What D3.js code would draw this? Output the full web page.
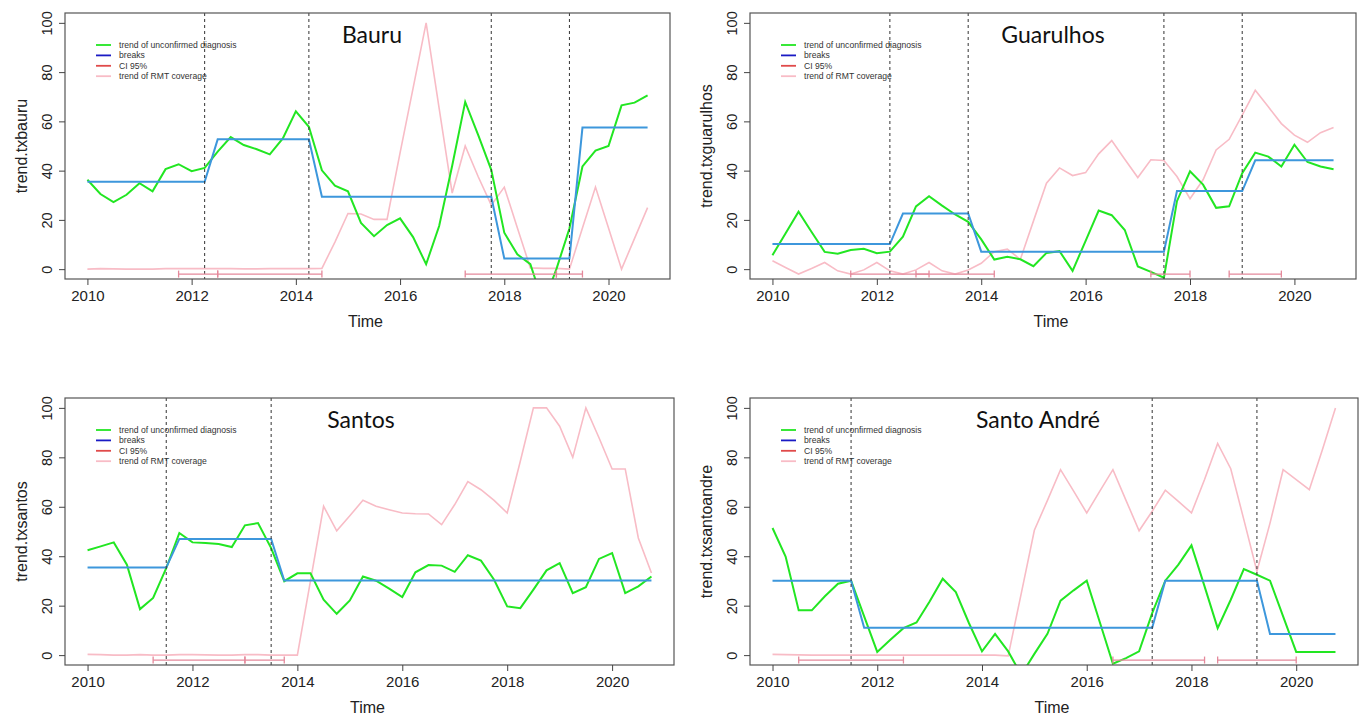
<!DOCTYPE html>
<html>
<head>
<meta charset="utf-8">
<script src="https://cdn.jsdelivr.net/npm/d3@7"></script>
<style>
  body { margin: 0; background: #fff; }
  svg { display: block; }
  text { font-family: "Liberation Sans", Arial, sans-serif; fill: #222; }
</style>
</head>
<body>
<svg id="chart" width="1361" height="717"></svg>
<script>
// quarterly time index 2010 Q1 .. 2020 Q4
const quarters = d3.range(44).map(i => 2010 + i / 4);
const xTicks = [2010, 2012, 2014, 2016, 2018, 2020];
const yTicks = [0, 20, 40, 60, 80, 100];
const legendLabels = ['trend of unconfirmed diagnosis', 'breaks', 'CI 95%', 'trend of RMT coverage'];

// Bauru
const bauruTrend = [36.3, 30.5, 27.2, 30.2, 34.9, 31.6, 40.6, 42.6, 39.8, 41.1, 47.7, 53.6,
  50.4, 48.7, 46.6, 53.1, 64.1, 57.8, 40.1, 33.9, 31.6, 18.8, 13.4, 17.9,
  20.6, 13.0, 2.0, 17.5, 42.0, 67.9, 54.4, 40.3, 14.8, 6.0, 2.0, -14.0,
  0.0, 16.5, 41.7, 48.1, 50.0, 66.5, 67.6, 70.6];
const bauruRMT = [0, 0.2, 0.1, 0, 0, 0, 0.2, 0.2, 0.2, 0.2, 0.2, 0.2,
  0.1, 0.1, 0.2, 0.2, 0.2, 0.2, 0.3, 11.0, 22.6, 22.4, 20.2, 20.2,
  47.2, 73.5, 100, 65.3, 30.9, 50.0, 37.5, 26.0, 33.3, 16.8, 0.5, 0.3,
  0.3, 0, 16.7, 33.3, 16.7, 0, 12.5, 25.0];
const bauruBreaks = [2012.25, 2014.25, 2017.75, 2019.25];
const bauruLevels = [35.5, 52.7, 29.4, 4.3, 57.5];
const bauruCI = [[2011.75, 2012.5], [2012.5, 2014.5], [2017.25, 2019.0], [2019.0, 2019.5]];

// Guarulhos
const guarulhosTrend = [5.6, 14.5, 23.3, 15.1, 7.0, 6.3, 7.8, 8.3, 6.5, 7.1, 13.2, 25.5,
  29.6, 25.8, 22.2, 19.2, 12.1, 3.9, 5.0, 4.0, 1.2, 6.6, 7.3, -0.7,
  11.5, 23.8, 21.9, 15.9, 1.1, -1.1, -3.5, 27.6, 39.7, 34.3, 24.9, 25.5,
  39.0, 47.3, 45.7, 41.7, 50.5, 43.5, 41.7, 40.6];
const guarulhosRMT = [3.4, 0.7, -2.0, 0.3, 2.7, -0.7, -2.0, -0.3, 2.7, -0.7, -2.0, -0.3,
  2.7, -0.7, -2.0, -0.3, 2.4, 7.1, 8.1, 4.0, 19.5, 34.9, 41.1, 38.0,
  39.2, 46.8, 52.2, 44.6, 37.2, 44.4, 44.1, 37.6, 28.6, 36.3, 48.4, 52.7,
  62.5, 72.6, 65.9, 59.1, 54.4, 51.5, 55.4, 57.5];
const guarulhosBreaks = [2012.25, 2013.75, 2017.5, 2019.0];
const guarulhosLevels = [10.2, 22.6, 7.1, 31.7, 44.2];
const guarulhosCI = [[2011.5, 2013.0], [2012.75, 2014.25], [2017.25, 2018.0], [2018.75, 2019.75]];

// Santos
const santosTrend = [42.4, 44.0, 45.6, 36.6, 18.6, 23.1, 35.2, 49.4, 45.6, 45.3, 44.9, 43.7,
  52.5, 53.4, 43.3, 29.9, 33.1, 33.1, 22.4, 16.7, 22.1, 31.8, 30.1, 26.9,
  23.5, 33.5, 36.4, 36.2, 33.7, 40.4, 38.2, 30.5, 19.7, 19.0, 26.5, 34.3,
  37.2, 25.1, 27.5, 38.9, 41.3, 25.1, 27.8, 31.8];
const santosRMT = [0.3, 0.2, 0, 0, 0.2, 0, 0, 0.2, 0.2, 0.1, 0, 0,
  0.2, 0.2, 0, 0, 0, 30.0, 60.2, 50.3, 56.4, 62.6, 60.2, 58.8,
  57.5, 57.2, 57.1, 52.8, 60.9, 70.2, 66.9, 62.6, 57.5, 78.4, 100, 100,
  92.6, 80.0, 100, 87.9, 75.3, 75.3, 47.4, 33.2];
const santosBreaks = [2011.5, 2013.5];
const santosLevels = [35.4, 47.0, 30.2];
const santosCI = [[2011.25, 2013.0], [2013.0, 2013.75]];

// Santo André
const santoAndreTrend = [51.4, 39.9, 18.1, 18.1, 23.8, 28.9, 30.1, 15.7, 1.3, 6.2, 10.9, 13.2,
  21.7, 30.9, 25.5, 13.0, 1.5, 8.6, 1.5, -8.0, 0.5, 8.6, 22.0, 26.2,
  30.1, 13.3, -3.5, -1.2, 1.5, 17.0, 30.1, 36.6, 44.4, 27.8, 10.9, 22.4,
  34.8, 32.5, 30.1, 15.7, 1.3, 1.3, 1.3, 1.3];
const santoAndreRMT = [0.3, 0.2, 0.1, 0, 0, 0, 0, 0, 0, 0, 0, 0,
  0, 0, 0, 0, 0, 0, -0.3, 25.0, 50.5, 62.6, 75.0, 66.3,
  57.5, 66.3, 75.0, 62.6, 50.3, 58.2, 66.7, 62.2, 57.5, 71.0, 85.6, 75.4,
  54.8, 33.9, 53.4, 75.0, 71.0, 66.9, 83.1, 100];
const santoAndreBreaks = [2011.5, 2017.25, 2019.25];
const santoAndreLevels = [30.1, 11.1, 30.1, 8.5];
const santoAndreCI = [[2010.5, 2012.5], [2016.5, 2018.25], [2018.5, 2020.0]];

const panels = [
  { title: 'Bauru', ylab: 'trend.txbauru', trend: bauruTrend, rmt: bauruRMT,
    breaks: bauruBreaks, levels: bauruLevels, ci: bauruCI,
    box: { left: 65, top: 13, width: 605, height: 266 }, titleX: 372 },
  { title: 'Guarulhos', ylab: 'trend.txguarulhos', trend: guarulhosTrend, rmt: guarulhosRMT,
    breaks: guarulhosBreaks, levels: guarulhosLevels, ci: guarulhosCI,
    box: { left: 750, top: 13, width: 606, height: 266 }, titleX: 1053 },
  { title: 'Santos', ylab: 'trend.txsantos', trend: santosTrend, rmt: santosRMT,
    breaks: santosBreaks, levels: santosLevels, ci: santosCI,
    box: { left: 65, top: 398, width: 609, height: 267 }, titleX: 361 },
  { title: 'Santo André', ylab: 'trend.txsantoandre', trend: santoAndreTrend, rmt: santoAndreRMT,
    breaks: santoAndreBreaks, levels: santoAndreLevels, ci: santoAndreCI,
    box: { left: 750, top: 398, width: 608, height: 267 }, titleX: 1038 },
];

const colGreen = '#22e622';
const colFit = '#3d97dc';
const colBlueLeg = '#1a1ac4';
const colRedLeg = '#e04a4a';
const colPink = '#f8bcc6';
const colCI = '#e4899b';

const svg = d3.select('#chart');

panels.forEach((p, idx) => {
  const b = p.box;
  const x = d3.scaleLinear().domain([2009.57, 2021.18]).range([b.left, b.left + b.width]);
  const y = d3.scaleLinear().domain([-4, 104]).range([b.top + b.height, b.top]);

  const g = svg.append('g');
  const clipId = 'clip' + idx;
  g.append('clipPath').attr('id', clipId)
    .append('rect').attr('x', b.left).attr('y', b.top).attr('width', b.width).attr('height', b.height);

  const line = d3.line().x((d, i) => x(quarters[i])).y(d => y(d));
  const plot = g.append('g').attr('clip-path', `url(#${clipId})`);

  // fitted segments from break dates
  const fitted = quarters.map(t => p.levels[p.breaks.filter(br => t > br).length]);

  plot.append('path').datum(p.rmt).attr('d', line)
    .attr('fill', 'none').attr('stroke', colPink).attr('stroke-width', 1.6);
  plot.append('path').datum(p.trend).attr('d', line)
    .attr('fill', 'none').attr('stroke', colGreen).attr('stroke-width', 2);
  plot.append('path').datum(fitted).attr('d', line)
    .attr('fill', 'none').attr('stroke', colFit).attr('stroke-width', 2);

  plot.selectAll('line.brk').data(p.breaks).join('line')
    .attr('x1', d => x(d)).attr('x2', d => x(d))
    .attr('y1', b.top).attr('y2', b.top + b.height)
    .attr('stroke', '#333').attr('stroke-width', 1).attr('stroke-dasharray', '3,3');

  // confidence intervals
  const ciY = y(-2);
  p.ci.forEach(c => {
    plot.append('line').attr('x1', x(c[0])).attr('x2', x(c[1])).attr('y1', ciY).attr('y2', ciY)
      .attr('stroke', colCI).attr('stroke-width', 1.3);
    c.forEach(v => plot.append('line').attr('x1', x(v)).attr('x2', x(v))
      .attr('y1', ciY - 3.5).attr('y2', ciY + 3.5).attr('stroke', colCI).attr('stroke-width', 1.3));
  });

  // box
  g.append('rect').attr('x', b.left).attr('y', b.top).attr('width', b.width).attr('height', b.height)
    .attr('fill', 'none').attr('stroke', '#555').attr('stroke-width', 1.2);

  // axes
  const xAxis = g.append('g').attr('transform', `translate(0,${b.top + b.height})`)
    .call(d3.axisBottom(x).tickValues(xTicks).tickFormat(d3.format('d')).tickSize(6).tickPadding(5));
  xAxis.select('.domain').remove();
  xAxis.selectAll('line').attr('stroke', '#444');
  xAxis.selectAll('text').attr('font-size', 15).attr('fill', '#111')
    .attr('font-family', '"Liberation Sans", Arial, sans-serif');

  const yAxis = g.append('g').attr('transform', `translate(${b.left},0)`)
    .call(d3.axisLeft(y).tickValues(yTicks).tickSize(6).tickPadding(0));
  yAxis.select('.domain').remove();
  yAxis.selectAll('line').attr('stroke', '#444');
  yAxis.selectAll('text').attr('font-size', 14.5).attr('fill', '#111')
    .attr('font-family', '"Liberation Sans", Arial, sans-serif')
    .attr('text-anchor', 'middle').attr('dy', 0).attr('x', 0)
    .attr('transform', 'translate(-13,0) rotate(-90)');

  // axis titles
  g.append('text').attr('x', b.left + b.width / 2 - 2).attr('y', b.top + b.height + 48)
    .attr('text-anchor', 'middle').attr('font-size', 16).text('Time');
  g.append('text')
    .attr('transform', `translate(${b.left - 38},${b.top + b.height / 2}) rotate(-90)`)
    .attr('text-anchor', 'middle').attr('font-size', 16).text(p.ylab);

  // panel title
  g.append('text').attr('x', p.titleX).attr('y', b.top + 30)
    .attr('text-anchor', 'middle').attr('font-size', 23)
    .style('font-family', 'Lato, "Open Sans", sans-serif').style('fill', '#111')
    .text(p.title);

  // legend
  const legCols = [colGreen, colBlueLeg, colRedLeg, colPink];
  const leg = g.append('g').attr('transform', `translate(${b.left + 31},${b.top + 32})`);
  legendLabels.forEach((lab, i) => {
    leg.append('line').attr('x1', 0).attr('x2', 15).attr('y1', i * 10.4).attr('y2', i * 10.4)
      .attr('stroke', legCols[i]).attr('stroke-width', 1.8);
    leg.append('text').attr('x', 23).attr('y', i * 10.4 + 3).attr('font-size', 8.6)
      .style('fill', '#333').text(lab);
  });
});
</script>
</body>
</html>
